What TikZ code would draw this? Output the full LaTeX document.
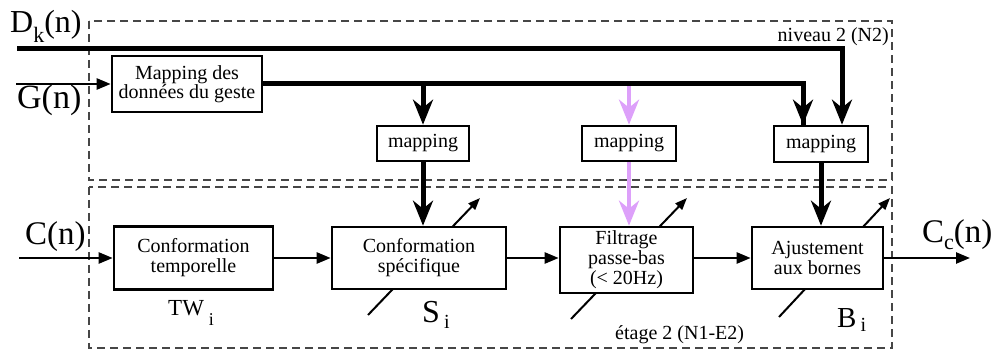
\documentclass[tikz,border=0pt]{standalone}
\usepackage{fontspec}
\setmainfont{Liberation Serif}
\usetikzlibrary{arrows.meta,calc}
\definecolor{lilac}{RGB}{221,160,250}
\definecolor{dashgray}{RGB}{70,70,70}
\begin{document}
\begin{tikzpicture}[x=1pt,y=-1pt,
  blk/.style={draw,line width=2.6pt,fill=white,align=center,inner sep=0pt,
    font=\fontsize{20}{20}\selectfont},
  thinarr/.style={line width=2.4pt,-{Triangle[length=14pt,width=11pt]}},
  thickline/.style={line width=5pt},
  thickarr/.style={line width=5pt,-{Stealth[length=25pt,width=20pt,inset=8pt]}},
  purplearr/.style={line width=4.5pt,draw=lilac,-{Stealth[length=25pt,width=20pt,inset=8pt]}},
  diag/.style={line width=2pt,-{Triangle[length=12pt,width=9pt]}},
  dashbox/.style={draw=dashgray,line width=1.3pt,dash pattern=on 8pt off 5pt},
  biglab/.style={anchor=base west,inner sep=0pt},
  txt/.style={inner sep=0pt,font=\fontsize{20}{20}\selectfont}
]
\useasboundingbox (0,0) rectangle (993,352);

% dashed level frames
\draw[dashbox] (89,21) rectangle (892,180);
\draw[dashbox] (89,187) rectangle (892,348);

% parameter diagonals (drawn under the blocks)
\coordinate (csa) at (368,315);
\coordinate (csb) at (480,198);
\coordinate (fba) at (571,319);
\coordinate (fbb) at (687,198);
\coordinate (aja) at (779,317);
\coordinate (ajb) at (890,198);
\draw[diag] (csa) -- (csb);
\draw[diag] (fba) -- (fbb);
\draw[diag] (aja) -- (ajb);

% blocks
\node[blk,minimum width=150pt,minimum height=56pt,font=\fontsize{20}{19}\selectfont] (mapdata) at (187,84) {Mapping des\\données du geste};
\node[blk,minimum width=92pt,minimum height=35pt] (m1) at (423,143.5) {mapping};
\node[blk,minimum width=94pt,minimum height=35pt] (m2) at (629,143.5) {mapping};
\node[blk,minimum width=94pt,minimum height=36pt] (m3) at (821,144) {mapping};

\node[blk,minimum width=159pt,minimum height=63pt] (ct) at (193.5,258) {Conformation\\temporelle};
\node[blk,minimum width=174pt,minimum height=62pt] (cs) at (419,258) {Conformation\\spécifique};
\node[blk,minimum width=133pt,minimum height=66pt] (fb) at (626.5,260) {Filtrage\\passe-bas\\(< 20Hz)};
\node[blk,minimum width=131pt,minimum height=62pt] (aj) at (817.5,258) {Ajustement\\aux bornes};

% labels
\node[biglab,font=\fontsize{32}{32}\selectfont] (dk) at (10,33) {D\raisebox{-10pt}{\fontsize{22}{22}\selectfont k}(n)};
\node[biglab,font=\fontsize{34}{34}\selectfont] (gn) at (17,109) {G(n)};
\node[biglab,font=\fontsize{33}{33}\selectfont] (cn) at (25,245) {C(n)};
\node[biglab,font=\fontsize{33}{33}\selectfont] (ccn) at (922,243) {C\raisebox{-7pt}{\fontsize{22}{22}\selectfont c}(n)};
\node[biglab,font=\fontsize{23}{23}\selectfont] (tw) at (168,316) {TW\hspace{5pt}\raisebox{-10pt}{\fontsize{18}{18}\selectfont i}};
\node[biglab,font=\fontsize{32}{32}\selectfont] (si) at (422,323) {S\hspace{4pt}\raisebox{-6pt}{\fontsize{20}{20}\selectfont i}};
\node[biglab,font=\fontsize{29}{29}\selectfont] (bi) at (837,328) {B\hspace{4pt}\raisebox{-4pt}{\fontsize{20}{20}\selectfont i}};
\node[txt,anchor=base east] (n2) at (889,42) {niveau 2 (N2)};
\node[txt,anchor=base west] (e2) at (615,340) {étage 2 (N1-E2)};

% level 2 connections
\coordinate (dk0) at (17,49);
\coordinate (gin) at (16,84);
\draw[thickarr] (dk0) -| ([xshift=21pt]m3.north);
\draw[thinarr] (gin) -- (mapdata.west);
\draw[purplearr] (m2.north |- mapdata.east) -- (m2.north);
\draw[thickline] (mapdata.east) -| ([xshift=-18pt,yshift=-2pt]m3.north);
\draw[thickarr] (mapdata.east -| m3.north) ++(-18pt,0) -- ([xshift=-18pt]m3.north);
\draw[thickarr] (m1.north |- mapdata.east) -- (m1.north);

% level 2 -> level 1
\draw[thickarr] (m1.south) -- (m1.south |- cs.north);
\draw[purplearr] (m2.south) -- (m2.south |- fb.north);
\draw[thickarr] (m3.south) -- (m3.south |- aj.north);

% level 1 chain
\coordinate (cin) at (19,258);
\coordinate (cout) at (970,258);
\draw[thinarr] (cin) -- (ct.west);
\draw[thinarr] (ct.east) -- (cs.west);
\draw[thinarr] (cs.east) -- (cs.east -| fb.west);
\draw[thinarr] (fb.east |- aj.west) -- (aj.west);
\draw[thinarr] (aj.east) -- (cout);
\end{tikzpicture}
\end{document}
